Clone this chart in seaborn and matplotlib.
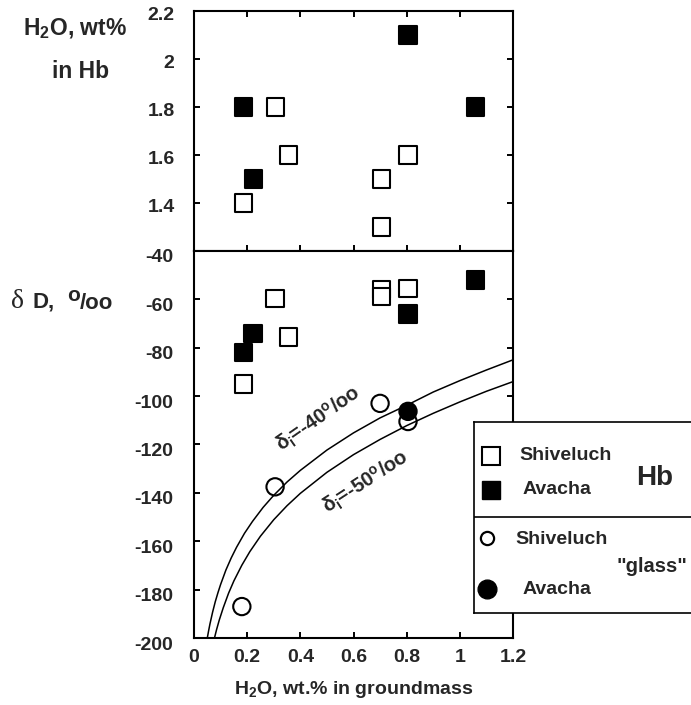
import matplotlib
matplotlib.use("Agg")
import matplotlib.pyplot as plt
import matplotlib.transforms as mtrans
import seaborn as sns
import pandas as pd

# ---------------- data ----------------
# Hornblende (Hb): H2O content in Hb vs H2O in groundmass (upper panel)
hb_top_volcano = ["Shiveluch", "Shiveluch", "Shiveluch", "Shiveluch", "Shiveluch", "Shiveluch",
                  "Avacha", "Avacha", "Avacha", "Avacha"]
hb_top_x = [0.185, 0.305, 0.355, 0.705, 0.705, 0.805, 0.185, 0.222, 0.805, 1.06]
hb_top_h2o = [1.40, 1.80, 1.60, 1.50, 1.30, 1.60, 1.80, 1.50, 2.10, 1.80]

# Hb delta D (lower panel)
hb_volcano = ["Shiveluch", "Shiveluch", "Shiveluch", "Shiveluch", "Shiveluch", "Shiveluch",
              "Avacha", "Avacha", "Avacha", "Avacha"]
hb_x = [0.185, 0.305, 0.355, 0.705, 0.705, 0.805, 0.185, 0.222, 0.805, 1.06]
hb_dD = [-95.0, -59.5, -75.5, -55.8, -58.9, -55.5, -82.0, -74.0, -66.0, -52.0]

# "glass" delta D (lower panel)
glass_volcano = ["Shiveluch", "Shiveluch", "Shiveluch", "Shiveluch", "Avacha"]
glass_x = [0.18, 0.305, 0.70, 0.805, 0.805]
glass_dD = [-187.0, -137.5, -103.0, -110.5, -106.3]

# degassing curves (delta_i = -40 and -50 per mil)
curve40_x = [0.050, 0.055, 0.060, 0.070, 0.080, 0.090, 0.10, 0.12, 0.14, 0.16, 0.19, 0.22,
             0.26, 0.30, 0.35, 0.40, 0.50, 0.60, 0.70, 0.80, 0.90, 1.00, 1.10, 1.20]
curve40_d = [-200.0, -197.0, -194.2, -189.3, -185.0, -181.3, -177.9, -171.9, -166.9, -162.5,
             -156.7, -151.8, -146.0, -141.0, -135.5, -130.7, -122.3, -115.2, -109.0, -103.8,
             -98.3, -93.6, -89.2, -85.0]
curve50_x = [0.077, 0.085, 0.095, 0.11, 0.13, 0.15, 0.18, 0.21, 0.25, 0.30, 0.35, 0.40,
             0.50, 0.60, 0.70, 0.80, 0.90, 1.00, 1.10, 1.20]
curve50_d = [-200.0, -196.5, -192.6, -187.5, -181.5, -176.4, -169.9, -164.3, -157.9, -151.1,
             -145.3, -140.2, -131.5, -124.2, -117.9, -112.2, -107.1, -102.4, -98.0, -94.0]

x_ticks = [0, 0.2, 0.4, 0.6, 0.8, 1.0, 1.2]
x_ticklabels = ["0", "0.2", "0.4", "0.6", "0.8", "1", "1.2"]
top_yticks = [1.4, 1.6, 1.8, 2.0, 2.2]
top_yticklabels = ["1.4", "1.6", "1.8", "2", "2.2"]
low_yticks = [-200, -180, -160, -140, -120, -100, -80, -60, -40]
low_yticklabels = ["-200", "-180", "-160", "-140", "-120", "-100", "-80", "-60", "-40"]

# ---------------- style ----------------
sns.set_theme(style="white")
plt.rcParams["font.family"] = ["Liberation Sans", "DejaVu Sans"]
plt.rcParams["font.weight"] = "bold"
plt.rcParams["mathtext.default"] = "regular"
plt.rcParams["axes.linewidth"] = 1.5

W, H = 691, 705
fig = plt.figure(figsize=(W / 100, H / 100), dpi=100)
fig.patch.set_facecolor("white")


def frect(l, t, r, b):
    return [l / W, 1 - b / H, (r - l) / W, (b - t) / H]


def fpt(x, y):
    return x / W, 1 - y / H


ax1 = fig.add_axes(frect(194, 11, 513, 251))
ax2 = fig.add_axes(frect(194, 251, 513, 638))

palette = {"Shiveluch": "white", "Avacha": "black"}

df_top = pd.DataFrame({"x": hb_top_x, "y": hb_top_h2o, "volcano": hb_top_volcano})
sns.scatterplot(data=df_top, x="x", y="y", hue="volcano", palette=palette, marker="s",
                s=150, edgecolor="black", linewidth=1.5, legend=False, ax=ax1, zorder=3)

df_low = pd.DataFrame({
    "x": hb_x + glass_x,
    "y": hb_dD + glass_dD,
    "volcano": hb_volcano + glass_volcano,
    "phase": ["Hb"] * len(hb_x) + ["glass"] * len(glass_x),
})
sns.scatterplot(data=df_low, x="x", y="y", hue="volcano", palette=palette, style="phase",
                markers={"Hb": "s", "glass": "o"}, s=155, edgecolor="black", linewidth=1.5,
                legend=False, ax=ax2, zorder=3)

sns.lineplot(x=curve40_x, y=curve40_d, sort=False, estimator=None, color="black",
             linewidth=1.1, ax=ax2, zorder=4)
sns.lineplot(x=curve50_x, y=curve50_d, sort=False, estimator=None, color="black",
             linewidth=1.1, ax=ax2, zorder=4)

for ax in (ax1, ax2):
    ax.set_xlim(0, 1.2)
    ax.set_xlabel("")
    ax.set_ylabel("")
    ax.set_facecolor("white")
    for sp in ax.spines.values():
        sp.set_visible(True)
        sp.set_color("black")
        sp.set_linewidth(1.5)

ax1.set_ylim(1.2, 2.2)
ax2.set_ylim(-200, -40)

ax1.set_xticks(x_ticks)
ax1.set_xticklabels([])
ax1.set_yticks(top_yticks)
ax1.set_yticklabels(top_yticklabels)
ax1.tick_params(axis="both", direction="in", length=4.5, width=1.4, color="black",
                top=True, bottom=True, left=True, right=True, labelbottom=False,
                labelsize=14, pad=14)

ax2.set_xticks(x_ticks)
ax2.set_xticklabels(x_ticklabels)
ax2.set_yticks(low_yticks)
ax2.set_yticklabels(low_yticklabels)
ax2.tick_params(axis="both", direction="in", length=4.5, width=1.4, color="black",
                top=False, bottom=True, left=True, right=True, labelsize=14)
ax2.tick_params(axis="y", pad=15)
ax2.tick_params(axis="x", pad=8)

for lab in ax1.get_yticklabels() + ax2.get_yticklabels() + ax2.get_xticklabels():
    lab.set_fontweight("bold")

off_low = mtrans.ScaledTranslation(0, -0.05, fig.dpi_scale_trans)
for lab in ax2.get_yticklabels():
    lab.set_transform(lab.get_transform() + off_low)
off_top = mtrans.ScaledTranslation(0, -0.025, fig.dpi_scale_trans)
for lab in ax1.get_yticklabels():
    lab.set_transform(lab.get_transform() + off_top)

# curve labels
ax2.text(*fpt(319, 419), "δ$_i$=-40$^o$/oo", transform=fig.transFigure, rotation=35,
         ha="center", va="center", fontsize=14.5, fontweight="bold", zorder=5)
ax2.text(*fpt(366, 482), "δ$_i$=-50$^o$/oo", transform=fig.transFigure, rotation=33,
         ha="center", va="center", fontsize=14.5, fontweight="bold", zorder=5)

# axis titles
fig.text(*fpt(23, 29), "H$_2$O, wt%", ha="left", va="center", fontsize=16.5, fontweight="bold")
fig.text(*fpt(81, 71), "in Hb", ha="center", va="center", fontsize=16.5, fontweight="bold")
fig.text(*fpt(11, 301), "δ", ha="left", va="center", fontsize=20,
         family=["Liberation Serif", "DejaVu Serif"], fontweight="normal")
fig.text(*fpt(32, 302), "D,", ha="left", va="center", fontsize=16, fontweight="bold")
fig.text(*fpt(67, 296), "o", ha="left", va="center", fontsize=15, fontweight="bold")
fig.text(*fpt(80, 303), "/oo", ha="left", va="center", fontsize=16, fontweight="bold")
fig.text(*fpt(354, 689), "H$_2$O, wt.% in groundmass", ha="center", va="center",
         fontsize=14, fontweight="bold")

# legend box
ax3 = fig.add_axes(frect(474, 422, 720, 613))
ax3.set_xlim(474, 720)
ax3.set_ylim(613, 422)
ax3.set_xticks([])
ax3.set_yticks([])
ax3.set_facecolor("white")
for name, sp in ax3.spines.items():
    sp.set_visible(name != "right")
    sp.set_color("black")
    sp.set_linewidth(1.2)
ax3.axhline(517, color="black", linewidth=1.2)
ax3.plot([491], [456], marker="s", ms=12.5, mfc="white", mec="black", mew=1.5)
ax3.plot([491], [490], marker="s", ms=13.5, mfc="black", mec="black", mew=1.0)
ax3.plot([487], [538], marker="o", ms=9.5, mfc="white", mec="black", mew=1.6)
ax3.plot([487], [589], marker="o", ms=13.5, mfc="black", mec="black", mew=1.0)
ax3.text(519, 455, "Shiveluch", ha="left", va="center", fontsize=14, fontweight="bold")
ax3.text(523, 490, "Avacha", ha="left", va="center", fontsize=14, fontweight="bold")
ax3.text(655, 478, "Hb", ha="center", va="center", fontsize=20, fontweight="bold")
ax3.text(515, 539, "Shiveluch", ha="left", va="center", fontsize=14, fontweight="bold")
ax3.text(652, 567, '"glass"', ha="center", va="center", fontsize=14.5, fontweight="bold")
ax3.text(523, 590, "Avacha", ha="left", va="center", fontsize=14, fontweight="bold")

fig.savefig("out.png", dpi=100, facecolor="white")
